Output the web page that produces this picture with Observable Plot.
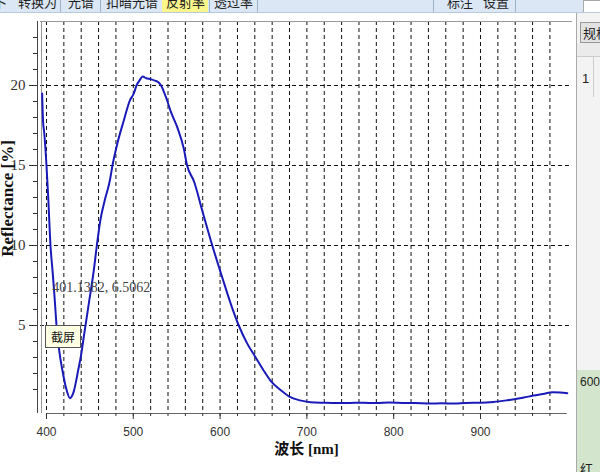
<!DOCTYPE html>
<html>
<head>
<meta charset="utf-8">
<script src="https://cdn.jsdelivr.net/npm/d3@7"></script>
<script src="https://cdn.jsdelivr.net/npm/@observablehq/plot@0.6"></script>
<style>
  html, body { margin: 0; padding: 0; background: #fff; }
  #wrap { position: relative; width: 600px; height: 472px; overflow: hidden; background: #fff; }
  #chart { position: absolute; left: 0; top: 0; }
  .tb { position: absolute; left: 0; top: 0; width: 600px; height: 12px; background: #dbe7f4; border-bottom: 1px solid #b7c9dc; overflow: hidden; }
  .tb span { position: absolute; top: -8px; font: 13px "Noto Sans CJK SC"; color: #222; white-space: nowrap; }
  .tb .sep { position: absolute; top: 0; width: 1px; height: 12px; background: #9fb3c8; }
  .tb .hl { position: absolute; top: 0; height: 12px; background: #fbf58a; }
  .panel { position: absolute; left: 576px; top: 13px; width: 24px; height: 459px; background: #f3f3f3; border-left: 1px solid #aaa; overflow: hidden; }
  .btn { position: absolute; left: 3px; top: 9px; width: 30px; height: 19px; background: #e2e2e2; border: 1px solid #999; font: 13px "Noto Sans CJK SC"; line-height: 19px; padding-left: 2px; color: #222; }
  .green { position: absolute; left: 0; top: 357px; width: 24px; height: 102px; background: #d3e6cd; }
  .shot { position: absolute; left: 45px; top: 325px; width: 34px; height: 21px; background: #ffffe3; border: 1px solid #555; font: 12px "Noto Sans CJK SC"; line-height: 21px; text-align: center; color: #111; }
</style>
</head>
<body>
<div id="wrap">
  <div id="chart"></div>
  <div class="tb">
    <div class="hl" style="left:162px;width:46px"></div>
    <span style="left:-6px">卜</span>
    <span style="left:18px">转换为</span>
    <div class="sep" style="left:60px"></div>
    <span style="left:68px">光谱</span>
    <div class="sep" style="left:100px"></div>
    <span style="left:106px">扣暗光谱</span>
    <span style="left:166px">反射率</span>
    <div class="sep" style="left:209px"></div>
    <span style="left:214px">透过率</span>
    <div class="sep" style="left:257px"></div>
    <div class="sep" style="left:433px"></div>
    <span style="left:447px">标注</span>
    <span style="left:483px">设置</span>
    <div class="sep" style="left:515px"></div>
    <div style="position:absolute;left:583px;top:0;width:17px;height:11px;background:#fff;border:1px solid #aaa"></div>
  </div>
  <div class="panel">
    <div class="btn">规格</div>
    <div style="position:absolute;left:0;top:30px;width:24px;height:13px;background:#ebebeb;border-bottom:1px solid #ccc"></div>
    <div style="position:absolute;left:5px;top:58px;font:13px 'Liberation Sans';color:#222">1</div>
    <div style="position:absolute;left:16px;top:44px;width:1px;height:40px;background:#ccc"></div>
    <div class="green"></div>
    <div style="position:absolute;left:3px;top:362px;font:12px 'Liberation Sans';color:#222">600</div>
    <div style="position:absolute;left:3px;top:446px;font:13px 'Noto Sans CJK SC';color:#222">红色</div>
  </div>
  <div class="shot">截屏</div>
</div>
<script>
// Measured spectrum (wavelength in nm, reflectance in %)
const wavelength = [395, 396, 397.5, 400, 402, 404.6, 407, 409, 412, 415, 419, 423, 427, 431, 436.5, 440, 443, 448.7, 454.5, 458, 462, 467, 473, 476, 481.5, 489, 496, 500.6, 503.7, 507, 511, 515, 520, 525, 529, 533, 536, 539, 543, 550.6, 558, 562, 570, 579.4, 591, 602.4, 612, 621.5, 631, 640.8, 650, 658, 670, 681, 692, 704, 720, 735, 750, 765, 780, 795, 810, 825, 842, 855, 870, 883, 900, 915, 930, 942, 950, 961, 972, 983, 992, 1000];
const reflectance = [19.5, 17.8, 17.0, 15.0, 13.0, 10.0, 8.4, 7.0, 4.7, 3.3, 2.0, 1.0, 0.46, 0.8, 2.2, 3.2, 4.3, 6.35, 8.44, 10.0, 11.56, 12.8, 14.06, 15.0, 16.35, 17.8, 19.06, 19.5, 20.0, 20.3, 20.56, 20.45, 20.4, 20.3, 20.2, 19.9, 19.5, 19.06, 18.4, 17.4, 16.1, 15.0, 14.0, 12.19, 10.0, 8.02, 6.4, 5.0, 3.9, 3.02, 2.2, 1.56, 0.95, 0.52, 0.32, 0.21, 0.17, 0.15, 0.16, 0.17, 0.15, 0.18, 0.16, 0.15, 0.12, 0.14, 0.12, 0.16, 0.17, 0.22, 0.32, 0.42, 0.5, 0.62, 0.72, 0.83, 0.82, 0.77];

const xTicks = [400, 500, 600, 700, 800, 900];
const xMinor = [400, 420, 440, 460, 480, 500, 520, 540, 560, 580, 600, 620, 640, 660, 680, 700, 720, 740, 760, 780, 800, 820, 840, 860, 880, 900, 920, 940, 960, 980];
const yTicks = [5, 10, 15, 20];
const yMinor = [1, 2, 3, 4, 5, 6, 7, 8, 9, 10, 11, 12, 13, 14, 15, 16, 17, 18, 19, 20, 21, 22, 23];
const xDomain = [393.1, 1006];
const yDomain = [-0.5, 24];
const xLabel = "波长 [nm]";
const yLabel = "Reflectance [%]";
const cursorReadout = [{w: 406.6, r: 7.4, text: "401.1382, 6.5062"}];

const data = wavelength.map((w, i) => ({w, r: reflectance[i]}));

const chart = Plot.plot({
  width: 600,
  height: 472,
  marginLeft: 40,
  marginRight: 28,
  marginTop: 21,
  marginBottom: 59,
  style: {fontFamily: "Liberation Sans", fontSize: "12px", color: "#333", background: "transparent"},
  x: {domain: xDomain, label: null},
  y: {domain: yDomain, label: null},
  marks: [
    Plot.ruleY(yTicks, {stroke: "#111", strokeDasharray: "4,3"}),
    Plot.ruleX(xMinor, {stroke: "#111", strokeDasharray: "4,3"}),
    Plot.ruleY([yDomain[1]], {stroke: "#999"}),
    Plot.ruleX([xDomain[0]], {stroke: "#999", dx: 1}),
    Plot.ruleX([xDomain[0]], {stroke: "#444", dx: -3}),
    Plot.ruleY([yDomain[0]], {x1: 400, x2: 1000, stroke: "#666"}),
    Plot.axisY(yTicks, {anchor: "left", tickSize: 8, tickPadding: 4, dx: -3, fontFamily: "Liberation Serif", fontSize: 15, label: null}),
    Plot.axisY(yMinor, {anchor: "left", tickSize: 4, text: null, dx: -3, label: null}),
    Plot.axisX(xTicks, {anchor: "bottom", tickSize: 6, tickPadding: 8, fontFamily: "Liberation Sans", fontSize: 12, label: null}),
    Plot.axisX(xMinor, {anchor: "bottom", tickSize: 3, text: null, label: null}),
    Plot.line(data, {x: "w", y: "r", stroke: "#1a1ab8", strokeWidth: 2, curve: "monotone-x"}),
    Plot.text(cursorReadout, {x: "w", y: "r", text: "text", textAnchor: "start", fontFamily: "Liberation Serif", fontSize: 14, fill: "#444"}),
    Plot.text([xLabel], {frameAnchor: "bottom", dy: 40, fontFamily: "Liberation Serif, Noto Sans CJK SC", fontSize: 15, fontWeight: "bold", fill: "#111"}),
    Plot.text([yLabel], {frameAnchor: "left", textAnchor: "middle", dx: -28, dy: -19, rotate: -90, lineAnchor: "bottom", fontFamily: "Liberation Serif", fontSize: 17, fontWeight: "bold", fill: "#111"})
  ]
});
document.getElementById("chart").appendChild(chart);
</script>
</body>
</html>
